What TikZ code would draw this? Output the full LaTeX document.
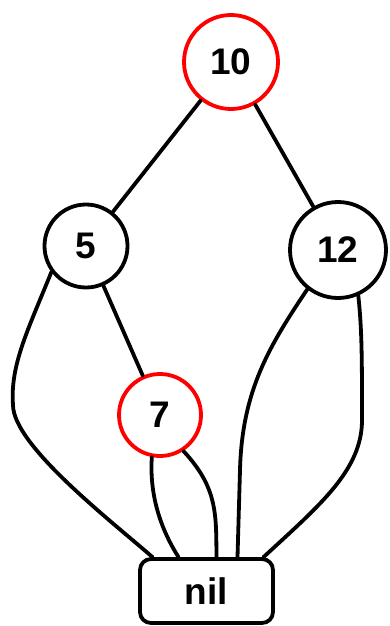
\documentclass[tikz,border=0pt]{standalone}
\usepackage{fontspec}
\setmainfont{Liberation Sans}
\begin{document}
\begin{tikzpicture}[x=1pt,y=-1pt,
  every node/.style={font=\fontsize{37}{40}\selectfont\bfseries, inner sep=0pt},
  bnode/.style={circle, draw=black, line width=3.8pt},
  rnode/.style={circle, draw=red, line width=3.8pt},
  nilbox/.style={rectangle, rounded corners=11pt, draw=black, line width=3.8pt,
                 minimum width=133pt, minimum height=64pt},
  link/.style={draw=black, line width=3.8pt, line cap=round, line join=round}]
  \useasboundingbox (0,0) rectangle (390,626);

  % tree nodes
  \node[rnode, minimum size=94pt] (n10) at (231,62) {10};
  \node[bnode, minimum size=83pt] (n5)  at (86,246) {5};
  \node[bnode, minimum size=96pt] (n12) at (338,250) {12};
  \node[rnode, minimum size=82pt] (n7)  at (160,415) {7};
  \node[nilbox] (nil) at (206.5,591) {nil};

  % child links
  \draw[link] (n10) -- (n5);
  \draw[link] (n10) -- (n12);
  \draw[link] (n5) -- (n7);

  % empty subtrees pointing to nil
  \draw[link] (n5.-143) .. controls (28,330) and (10,365) .. (13,405)
              .. controls (13,445) and (110,520) .. ([xshift=-54pt]nil.north);
  \draw[link] (n7.-101) .. controls (150,485) and (155,520) .. ([xshift=-28pt]nil.north);
  \draw[link] (n7.-57) .. controls (218,488) and (216,515) .. ([xshift=10pt]nil.north);
  \draw[link] (n12.-128) .. controls (270,345) and (242,390) .. (240,470)
              -- ([xshift=31pt]nil.north);
  \draw[link] (n12.-66) .. controls (362,330) and (362,360) .. (362,420)
              .. controls (362,470) and (320,505) .. ([xshift=57pt]nil.north);
\end{tikzpicture}
\end{document}
